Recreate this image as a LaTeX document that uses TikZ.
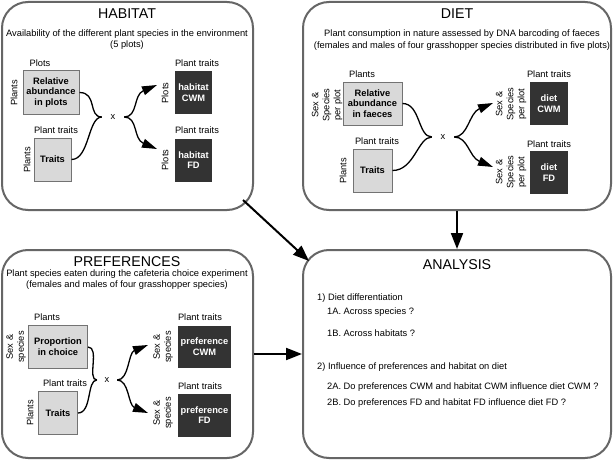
\documentclass[tikz,border=0pt]{standalone}
\usepackage{fontspec}
\setmainfont{Liberation Sans}
\usetikzlibrary{arrows.meta}
\begin{document}
\begin{tikzpicture}[x=1pt,y=-1pt,
  panel/.style={draw=black!60, line width=2pt, rounded corners=26pt, inner sep=0pt},
  lbox/.style={draw=black!55, fill=black!15, line width=1pt, inner sep=0pt, align=center,
    font=\bfseries\fontsize{9.3}{10.7}\selectfont},
  dbox/.style={fill=black!80, text=white, inner sep=0pt, align=center,
    font=\bfseries\fontsize{9.3}{10.7}\selectfont},
  ttl/.style={inner sep=0pt, font=\fontsize{14.2}{16}\selectfont},
  sub/.style={inner sep=0pt, anchor=base, font=\fontsize{9.3}{11}\selectfont},
  lab/.style={inner sep=0pt, font=\fontsize{9.3}{11}\selectfont},
  rlab/.style={lab, rotate=90, align=center},
  qtxt/.style={lab, anchor=west},
  link/.style={line width=1.3pt},
  arr/.style={link, -{Triangle[length=15pt,width=9pt]}},
  big/.style={line width=2pt, -{Triangle[length=16pt,width=12pt]}},
  xn/.style={lab, minimum width=22pt}
]
\useasboundingbox (0,0) rectangle (613,460);
\fill[white] (0,0) rectangle (613,460);

% ---------- panels
\node[panel, minimum width=251pt, minimum height=208pt] (habitat) at (127.5,106) {};
\node[panel, minimum width=308pt, minimum height=208pt] (diet) at (457,106) {};
\node[panel, minimum width=251pt, minimum height=208pt] (pref) at (127.5,354) {};
\node[panel, minimum width=308pt, minimum height=208pt] (analysis) at (457,354) {};

% ---------- HABITAT
\node[ttl] (ht) at (127,14) {HABITAT};
\node[sub] (hs1) at (127,36.5) {Availability of the different plant species in the environment};
\node[sub] (hs2) at (127,48) {(5 plots)};
\node[lab] (hl1) at (40,63) {Plots};
\node[lbox, minimum width=56pt, minimum height=43pt] (hra) at (51,92.5) {Relative\\abundance\\in plots};
\node[rlab] (hl2) at (14,93) {Plants};
\node[lab] (hl3) at (56,130) {Plant traits};
\node[lbox, minimum width=37pt, minimum height=43pt] (htr) at (52.5,159.5) {Traits};
\node[rlab] (hl4) at (27,160) {Plants};
\node[xn] (hx) at (113,117) {x};
\node[lab] (hl5) at (197,63) {Plant traits};
\node[dbox, minimum width=37pt, minimum height=43pt] (hcwm) at (193.5,92.5) {habitat\\CWM};
\node[rlab] (hl6) at (165,93) {Plots};
\node[lab] (hl7) at (197,130) {Plant traits};
\node[dbox, minimum width=37pt, minimum height=43pt] (hfd) at (193.5,160) {habitat\\FD};
\node[rlab] (hl8) at (165,160) {Plots};
\coordinate (hta) at (157,85);
\coordinate (htb) at (157,149);
\draw[link] (hra.east) .. controls +(18,0) and +(-14,0) .. (hx.west);
\draw[link] (htr.east) .. controls +(18,0) and +(-14,0) .. (hx.west);
\draw[arr] (hx.east) .. controls +(14,0) and (133,95) .. (hta);
\draw[arr] (hx.east) .. controls +(14,0) and (133,139) .. (htb);

% ---------- DIET
\node[ttl] (dt) at (457,14) {DIET};
\node[sub] (ds1) at (462,36.5) {Plant consumption in nature assessed by DNA barcoding of faeces};
\node[sub] (ds2) at (462,48.3) {(females and males of four grasshopper species distributed in five plots)};
\node[lab] (dl1) at (362,74) {Plants};
\node[lbox, minimum width=59pt, minimum height=43pt] (dra) at (372.5,103.5) {Relative\\abundance\\in faeces};
\node[rlab] (dl2) at (327,105) {Sex \&\\Species\\per plot};
\node[lab] (dl3) at (377,141) {Plant traits};
\node[lbox, minimum width=39pt, minimum height=43pt] (dtr) at (372.5,170.5) {Traits};
\node[rlab] (dl4) at (343,171) {Plants};
\node[xn] (dx) at (443,137) {x};
\node[lab] (dl5) at (549,74) {Plant traits};
\node[dbox, minimum width=38pt, minimum height=43pt] (dcwm) at (549,103.5) {diet\\CWM};
\node[rlab] (dl6) at (511,104) {Sex \&\\Species\\per plot};
\node[lab] (dl7) at (549,144) {Plant traits};
\node[dbox, minimum width=38pt, minimum height=43pt] (dfd) at (549,172.5) {diet\\FD};
\node[rlab] (dl8) at (511,172) {Sex \&\\Species\\per plot};
\coordinate (dta) at (493,103);
\coordinate (dtb) at (493,167);
\draw[link] (dra.east) .. controls +(18,0) and +(-14,0) .. (dx.west);
\draw[link] (dtr.east) .. controls +(22,0) and +(-14,0) .. (dx.west);
\draw[arr] (dx.east) .. controls +(14,0) and (469,113) .. (dta);
\draw[arr] (dx.east) .. controls +(14,0) and (469,157) .. (dtb);

% ---------- PREFERENCES
\node[ttl] (pt) at (127,262) {PREFERENCES};
\node[sub] (ps1) at (127,276.8) {Plant species eaten during the cafeteria choice experiment};
\node[sub] (ps2) at (127,287.3) {(females and males of four grasshopper species)};
\node[lab] (pl1) at (47,317) {Plants};
\node[lbox, minimum width=59pt, minimum height=42.5pt] (pra) at (58,347) {Proportion\\in choice};
\node[rlab] (pl2) at (16,347) {Sex \&\\species};
\node[lab] (pl3) at (65,383) {Plant traits};
\node[lbox, minimum width=39pt, minimum height=42.5pt] (ptr) at (58,413) {Traits};
\node[rlab] (pl4) at (30,413) {Plants};
\node[xn, minimum width=20pt] (px) at (107,380) {x};
\node[lab] (pl5) at (200,317) {Plant traits};
\node[dbox, minimum width=53pt, minimum height=42pt] (pcwm) at (204.5,346.5) {preference\\CWM};
\node[rlab] (pl6) at (163,347) {Sex \&\\species};
\node[lab] (pl7) at (200,386) {Plant traits};
\node[dbox, minimum width=53pt, minimum height=43pt] (pfd) at (204.5,415) {preference\\FD};
\node[rlab] (pl8) at (163,413) {Sex \&\\species};
\coordinate (pta) at (148,345);
\coordinate (ptb) at (148,413);
\draw[link] (pra.east) .. controls +(12,0) and +(-10,0) .. (px.west);
\draw[link] (ptr.east) .. controls +(14,0) and +(-10,0) .. (px.west);
\draw[arr] (px.east) .. controls +(12,0) and (128,353) .. (pta);
\draw[arr] (px.east) .. controls +(12,0) and (128,405) .. (ptb);

% ---------- ANALYSIS
\node[ttl] (at) at (457,265) {ANALYSIS};
\node[qtxt] (q1) at (317,298) {1) Diet differentiation};
\node[qtxt] (q1a) at (327,312) {1A. Across species ?};
\node[qtxt] (q1b) at (327,333) {1B. Across habitats ?};
\node[qtxt] (q2) at (317,367) {2) Influence of preferences and habitat on diet};
\node[qtxt] (q2a) at (327,387) {2A. Do preferences CWM and habitat CWM influence diet CWM ?};
\node[qtxt] (q2b) at (327,403) {2B. Do preferences FD and habitat FD influence diet FD ?};

% ---------- connectors between panels
\draw[big] ([shift={(-11,-11)}]habitat.south east) -- ([shift={(7,12)}]analysis.north west);
\draw[big] (diet.south) -- (analysis.north);
\draw[big] (pref.east) -- (analysis.west);
\end{tikzpicture}
\end{document}
